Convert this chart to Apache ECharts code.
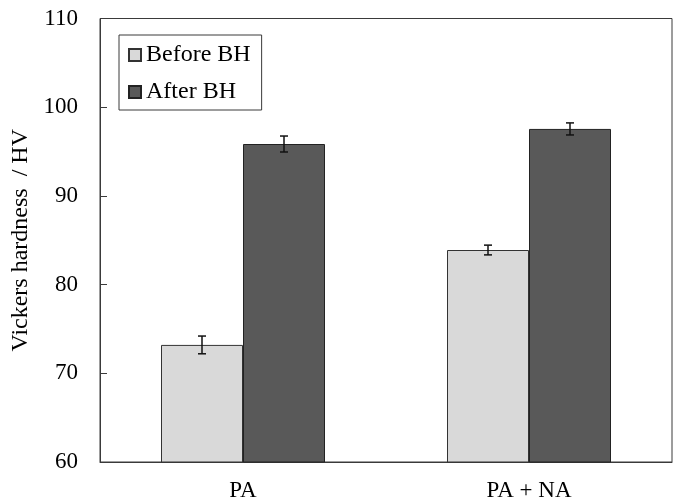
<!DOCTYPE html>
<html>
<head>
<meta charset="utf-8">
<script src="https://cdn.jsdelivr.net/npm/echarts@6/dist/echarts.min.js"></script>
<style>html,body{margin:0;padding:0;background:#fff}#c{width:676px;height:503px}</style>
</head>
<body>
<div id="c"></div>
<script>
var categories = ['PA', 'PA + NA'];
var beforeBH = [73.2, 83.9];
var beforeErr = [1.0, 0.55];
var afterBH = [95.85, 97.55];
var afterErr = [0.9, 0.68];
var yTicks = [60, 70, 80, 90, 100, 110];

var FONT = 'Liberation Serif';
var BAR_W = 82;

function errSeries(vals, errs, side) {
  var data = vals.map(function (v, i) { return [i, v, errs[i]]; });
  return {
    type: 'custom',
    silent: true,
    z: 10,
    data: data,
    renderItem: function (params, api) {
      var i = api.value(0), v = api.value(1), e = api.value(2);
      var hi = api.coord([i, v + e]);
      var lo = api.coord([i, v - e]);
      var x = hi[0] + side * BAR_W / 2;
      var cap = 4;
      var st = { stroke: '#111', lineWidth: 1.5 };
      return {
        type: 'group',
        children: [
          { type: 'line', shape: { x1: x, y1: hi[1], x2: x, y2: lo[1] }, style: st },
          { type: 'line', shape: { x1: x - cap, y1: hi[1], x2: x + cap, y2: hi[1] }, style: st },
          { type: 'line', shape: { x1: x - cap, y1: lo[1], x2: x + cap, y2: lo[1] }, style: st }
        ]
      };
    }
  };
}

var chart = echarts.init(document.getElementById('c'), null, { renderer: 'canvas' });
chart.setOption({
  animation: false,
  backgroundColor: '#fff',
  textStyle: { fontFamily: FONT },
  grid: {
    left: 100, right: 4, top: 18.5, bottom: 41,
    show: true, borderColor: '#3a3a3a', borderWidth: 1, backgroundColor: 'transparent'
  },
  legend: {
    orient: 'vertical',
    left: 119, top: 35,
    padding: [7, 11, 5, 9],
    itemGap: 11,
    itemWidth: 12, itemHeight: 12,
    icon: 'rect',
    borderColor: '#3a3a3a', borderWidth: 1,
    textStyle: { fontFamily: FONT, fontSize: 24, color: '#000', lineHeight: 26 },
    data: ['Before BH', 'After BH']
  },
  xAxis: {
    type: 'category',
    data: categories,
    axisLine: { lineStyle: { color: '#3a3a3a', width: 1 } },
    axisTick: { show: false },
    axisLabel: { fontFamily: FONT, fontSize: 23, color: '#000', margin: 17 }
  },
  yAxis: {
    type: 'value',
    min: yTicks[0], max: yTicks[yTicks.length - 1], interval: 10,
    name: 'Vickers hardness  / HV',
    nameLocation: 'middle',
    nameGap: 60,
    nameTextStyle: { fontFamily: FONT, fontSize: 24, color: '#000' },
    splitLine: { show: false },
    axisLine: { show: true, lineStyle: { color: '#3a3a3a', width: 1 } },
    axisTick: { show: true, inside: true, length: 7, lineStyle: { color: '#3a3a3a' } },
    axisLabel: { fontFamily: FONT, fontSize: 23, color: '#000', margin: 22 }
  },
  series: [
    {
      name: 'Before BH', type: 'bar', data: beforeBH, barWidth: BAR_W, barGap: '0%',
      itemStyle: { color: '#d9d9d9', borderColor: '#333', borderWidth: 1 }
    },
    {
      name: 'After BH', type: 'bar', data: afterBH, barWidth: BAR_W, barGap: '0%',
      itemStyle: { color: '#595959', borderColor: '#222', borderWidth: 1 }
    },
    errSeries(beforeBH, beforeErr, -1),
    errSeries(afterBH, afterErr, 1)
  ]
});
</script>
</body>
</html>
